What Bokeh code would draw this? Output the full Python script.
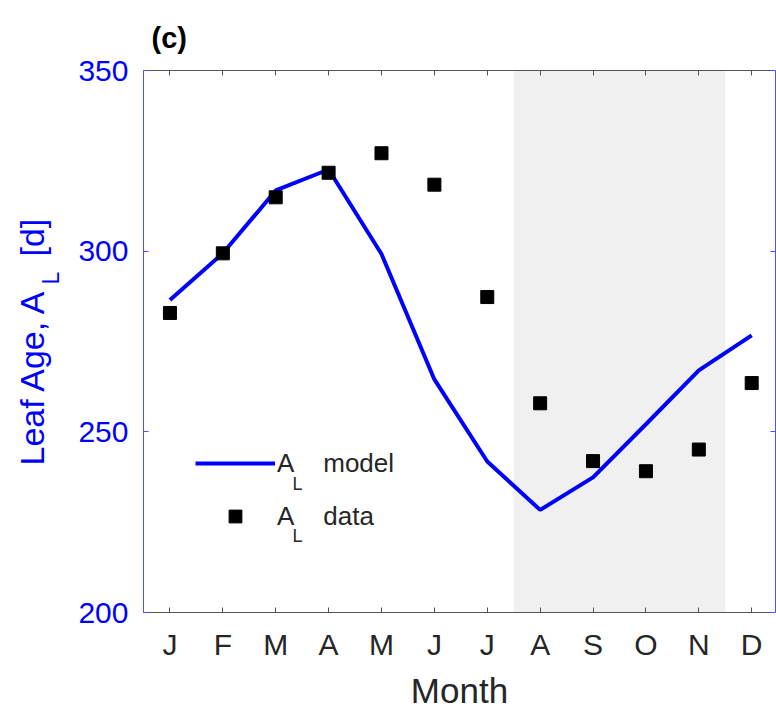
import math
from bokeh.plotting import figure
from bokeh.layouts import gridplot
from bokeh.models import (Range1d, LinearAxis, FixedTicker, BoxAnnotation, Label,
                          Legend, LegendItem)
from bokeh.core.properties import value
from bokeh.embed import file_html
from bokeh.resources import INLINE

# ---- data ----
months = list(range(1, 13))
month_labels = ["J", "F", "M", "A", "M", "J", "J", "A", "S", "O", "N", "D"]
model_AL = [286.5, 299.4, 316.8, 322.6, 299.2, 264.5, 241.8, 228.4, 237.4, 252.1, 267.0, 276.7]
data_AL = [282.9, 299.4, 314.9, 321.7, 327.1, 318.4, 287.3, 257.9, 241.9, 239.1, 245.1, 263.5]
y_ticks = [200, 250, 300, 350]
shade_start, shade_end = 7.5, 11.5
x_title = "Month"
y_title_parts = ["Leaf Age, A", "L", "[d]"]

# ---- layout (canvas pixels) ----
W, H = 776, 707
STRIP = 73                       # left strip holding the y-axis title
MAIN_H = 664                     # main plot height; below it a strip for the x title
FL, FR, FT, FB = 143, 775, 70, 612
xr = Range1d(0.5, 12.45)
yr = Range1d(200, 350)

FONT = "Liberation Sans"
BLUE = "#0000ff"
GRAY = "#262626"

def sx(px):
    return px - FL

def sy(py):
    return FB - py

def bare(fig):
    fig.outline_line_color = None
    fig.xgrid.visible = False
    fig.ygrid.visible = False
    fig.border_fill_color = "white"
    fig.background_fill_color = "white"

# ---- strip with rotated y-axis title (A with subscript L) ----
s = figure(width=STRIP, height=MAIN_H, x_range=Range1d(0, STRIP),
           y_range=Range1d(H - FB, H - FT), output_backend="svg", toolbar_location=None,
           x_axis_location=None, y_axis_location=None,
           min_border_left=0, min_border_right=0, min_border_top=FT,
           min_border_bottom=MAIN_H - FB)
bare(s)
s.text(x=[31, 50, 31], y=[H - 465, H - 284, H - 256], text=y_title_parts,
       angle=math.pi / 2, text_font=value(FONT),
       text_font_size=["34px", "23px", "34px"], text_color=BLUE,
       text_align="left", text_baseline="alphabetic")

# ---- main plot ----
p = figure(width=W - STRIP, height=MAIN_H, x_range=xr, y_range=yr, output_backend="svg",
           toolbar_location=None, x_axis_location=None, y_axis_location=None,
           min_border_left=FL - STRIP, min_border_right=W - FR, min_border_top=FT,
           min_border_bottom=MAIN_H - FB)
bare(p)

p.title.text = "(c)"
p.title.align = "left"
p.title.offset = 8
p.title.standoff = 34
p.title.text_line_height = 1.0
p.title.text_font = FONT
p.title.text_font_size = "29px"
p.title.text_font_style = "bold"
p.title.text_color = "black"

# shaded season
p.add_layout(BoxAnnotation(left=shade_start, right=shade_end, fill_color="#f0f0f0",
                           fill_alpha=1.0, line_color=None, level="underlay"))

overrides = {m: lbl for m, lbl in zip(months, month_labels)}

def style_common(ax, color):
    ax.axis_line_color = color
    ax.axis_line_width = 1
    ax.major_tick_line_color = color
    ax.major_tick_in = 5
    ax.major_tick_out = 0
    ax.minor_tick_line_color = None

bottom = LinearAxis(ticker=FixedTicker(ticks=months), major_label_overrides=overrides)
style_common(bottom, "#555555")
bottom.major_label_text_font = FONT
bottom.major_label_text_font_size = "30px"
bottom.major_label_text_color = GRAY
bottom.major_label_standoff = 15
p.add_layout(bottom, "below")

top = LinearAxis(ticker=FixedTicker(ticks=months),
                 major_label_overrides={m: "" for m in months})
style_common(top, "#555555")
top.major_label_standoff = 0
p.add_layout(top, "above")

left = LinearAxis(ticker=FixedTicker(ticks=y_ticks))
style_common(left, "#5050ff")
left.major_label_text_font = FONT
left.major_label_text_font_size = "30px"
left.major_label_text_color = BLUE
left.major_label_standoff = 15
p.add_layout(left, "left")

right = LinearAxis(ticker=FixedTicker(ticks=y_ticks),
                   major_label_overrides={t: "" for t in y_ticks})
style_common(right, "#5050ff")
right.major_label_standoff = 0
p.add_layout(right, "right")

# model line and data squares
r_line = p.line(months, model_AL, line_color=BLUE, line_width=4)
r_sq = p.scatter(months, data_AL, marker="square", size=13, fill_color="black",
                 line_color="black")

NB = "\u00a0"
legend = Legend(items=[LegendItem(label="A" + NB * 4 + "model", renderers=[r_line]),
                       LegendItem(label="A" + NB * 4 + "data", renderers=[r_sq])],
                location=(52, 80), glyph_width=80, glyph_height=32, label_height=32,
                spacing=21, padding=0, margin=0, label_standoff=2,
                border_line_color=None, background_fill_alpha=0,
                label_text_font=FONT, label_text_font_size="26px",
                label_text_color=GRAY)
p.add_layout(legend)

# legend subscripts
for yb in (483, 535):
    p.add_layout(Label(x=sx(292), y=sy(yb), x_units="screen", y_units="screen",
                       text="L", text_font=FONT, text_font_size="18px", text_color=GRAY,
                       text_align="left", text_baseline="alphabetic"))

# ---- strip with the x-axis title ----
m = figure(width=W - STRIP, height=H - MAIN_H, x_range=xr, y_range=Range1d(0, H - MAIN_H),
           output_backend="svg", toolbar_location=None, x_axis_location=None,
           y_axis_location=None, min_border_left=FL - STRIP, min_border_right=W - FR,
           min_border_top=0, min_border_bottom=0)
bare(m)
m.text(x=[(xr.start + xr.end) / 2], y=[H - 690], text=[x_title], text_font=value(FONT),
       text_font_size="35px", text_color=GRAY, text_align="center",
       text_baseline="alphabetic")

layout = gridplot([[s, p], [None, m]], toolbar_location=None)
open("out.html", "w").write(file_html(layout, INLINE))
